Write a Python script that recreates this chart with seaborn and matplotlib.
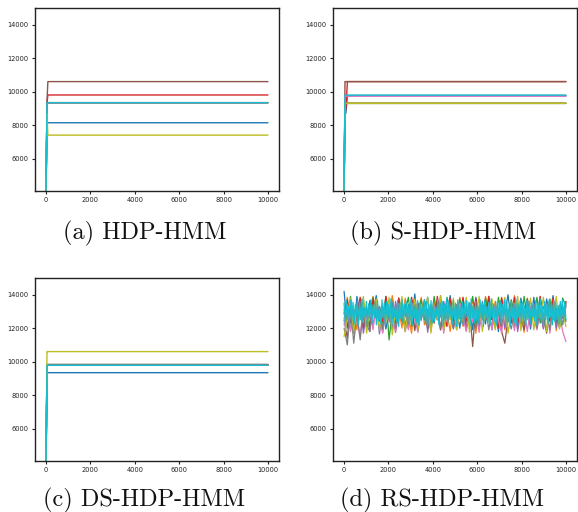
import numpy as np
import pandas as pd
import matplotlib
matplotlib.use("Agg")
import matplotlib.pyplot as plt
import seaborn as sns

# ---------------- data ----------------
chains = ["c0", "c1", "c2", "c3", "c4", "c5", "c6", "c7", "c8", "c9"]

# (a) HDP-HMM
a_iter = [0, 40, 80, 10000]
a_vals = [
    [4100, 8140, 8140, 8140],     # blue
    [4100, 9340, 9340, 9340],     # orange
    [4100, 9340, 9340, 9340],     # green
    [4100, 9300, 9800, 9800],     # red
    [4100, 9340, 9340, 9340],     # purple
    [4100, 9400, 10600, 10600],   # brown
    [4100, 9340, 9340, 9340],     # pink
    [4100, 9340, 9340, 9340],     # gray
    [4100, 8700, 7400, 7400],     # olive
    [4100, 9340, 9340, 9340],     # cyan
]

# (b) S-HDP-HMM
b_iter = [0, 40, 80, 150, 10000]
b_vals = [
    [4100, 8700, 8700, 9770, 9770],
    [4100, 9300, 9300, 9300, 9300],
    [4100, 9300, 9300, 9300, 9300],
    [4100, 9700, 8900, 10600, 10600],
    [4100, 9750, 9750, 9750, 9750],
    [4100, 10600, 10600, 10600, 10600],
    [4100, 9730, 9730, 9730, 9730],
    [4100, 9300, 9300, 9300, 9300],
    [4100, 9300, 9300, 9300, 9300],
    [4100, 9790, 9790, 9790, 9790],
]

# (c) DS-HDP-HMM
c_iter = [0, 40, 80, 10000]
c_vals = [
    [4100, 9340, 9340, 9340],
    [4100, 9800, 9800, 9800],
    [4100, 9800, 9800, 9800],
    [4100, 9800, 9800, 9800],
    [4100, 9800, 9800, 9800],
    [4100, 9800, 9800, 9800],
    [4100, 9800, 9800, 9800],
    [4100, 9840, 9840, 9840],
    [4100, 10600, 10600, 10600],
    [4100, 9780, 9780, 9780],
]

# (d) RS-HDP-HMM
d_blue = [14200, 12000, 13300, 11800, 13900, 12700, 13100, 12100, 13650, 12900,
          13950, 12400, 13200, 11950, 13000, 13800, 12300, 12800, 13700, 11900,
          13400, 12600, 14050, 12200, 13000, 12800, 13850, 12050, 13300, 12500,
          13600, 11850, 12900, 13950, 12400, 13100, 12000, 13750, 12700, 13300,
          11900, 13850, 12600, 13000, 12250, 13900, 12500, 13200, 11800, 13700,
          12900, 14000, 12300, 13100, 12000, 13800, 12700, 13400, 11950, 13850,
          12500, 13000, 12100, 13750, 12800, 13950, 12200, 13300, 12600, 13500]
d_orange = [12800, 13850, 12400, 13100, 11900, 13750, 12900, 13300, 12100, 13900,
            12600, 13000, 11750, 13500, 12800, 13950, 12300, 13200, 12000, 13800,
            12700, 11700, 13600, 12900, 13850, 12200, 13100, 11900, 13700, 12500,
            13950, 12800, 13000, 11800, 13400, 12600, 13850, 12100, 13200, 12900,
            13750, 11700, 13300, 12500, 13900, 12800, 12100, 13600, 12700, 13850,
            11900, 13100, 12600, 13950, 12300, 13000, 11750, 13800, 12500, 13300,
            12900, 13900, 12000, 13200, 12700, 13750, 11850, 13400, 12600, 13600]
d_green = [13100, 12500, 13900, 12200, 13300, 12800, 13750, 12000, 13000, 13850,
           12600, 13200, 12300, 13900, 11300, 13100, 12700, 13800, 12400, 13000,
           13850, 12100, 13300, 12900, 13700, 12500, 13100, 12000, 13900, 12700,
           13200, 12400, 13850, 12800, 13000, 12100, 13750, 12600, 13300, 12900,
           13900, 12200, 13100, 12700, 13800, 12500, 13000, 12000, 13850, 12800,
           13200, 12400, 13700, 12900, 13100, 12200, 13900, 12600, 13000, 12700,
           13850, 12300, 13300, 12800, 13750, 12500, 13100, 12100, 13800, 13300]
d_red = [12900, 13700, 12300, 13100, 12800, 13850, 12500, 13000, 12100, 13750,
         12700, 13300, 12400, 13900, 12900, 13100, 12200, 13800, 12600, 13000,
         12000, 13850, 12800, 13200, 12500, 13700, 12900, 13100, 12300, 13900,
         12700, 13000, 12100, 13800, 12600, 13300, 12800, 13850, 12400, 13100,
         12900, 13750, 12200, 13000, 12700, 13900, 12500, 13200, 12000, 13800,
         12800, 13100, 12600, 13850, 12300, 13000, 12900, 13750, 12500, 13300,
         12100, 13900, 12700, 13100, 12400, 13800, 12800, 13000, 12600, 13600]
d_purple = [12600, 13200, 11900, 13000, 12700, 13600, 11700, 12900, 13300, 12100,
            13500, 11650, 13100, 12800, 13000, 11900, 13600, 12500, 13200, 11800,
            12900, 13400, 12000, 13100, 12600, 13550, 11750, 13000, 12800, 13300,
            11900, 13600, 12700, 13100, 12000, 13400, 12600, 13000, 11850, 13500,
            12900, 13200, 12100, 13600, 12500, 13000, 11900, 13300, 12800, 13500,
            12000, 13100, 12700, 13400, 11800, 13000, 12600, 13600, 12100, 13200,
            12900, 13000, 11950, 13500, 12700, 13300, 12000, 13100, 12800, 13400]
d_brown = [12500, 11400, 13200, 11700, 12900, 13500, 12000, 13100, 11800, 13400,
           12700, 13000, 11900, 13300, 12600, 13500, 11750, 13000, 12800, 13400,
           12100, 13200, 11850, 13500, 12700, 13000, 12000, 13300, 12500, 13600,
           11900, 13100, 12800, 13400, 12000, 13000, 12600, 13500, 11950, 13200,
           10900, 13300, 12000, 13100, 12500, 12700, 13400, 12800, 13000, 11800,
           11100, 12600, 13200, 12000, 13300, 12700, 11900, 13100, 12500, 13400,
           12100, 13000, 12800, 11700, 13500, 12600, 13200, 12000, 13300, 12400]
d_pink = [12200, 13300, 11800, 13000, 12600, 11500, 13400, 12500, 13100, 11900,
          13500, 12700, 11700, 13200, 12400, 13000, 11800, 13400, 12600, 13100,
          11900, 13500, 12500, 11750, 13200, 12700, 13000, 11850, 13300, 12600,
          13100, 11700, 13400, 12500, 13000, 11900, 13500, 12700, 11800, 13200,
          12400, 13100, 11750, 13400, 12600, 13000, 11900, 13300, 12500, 11700,
          13200, 12700, 13100, 11850, 13500, 12400, 13000, 11800, 13300, 12600,
          11900, 13100, 12500, 13400, 11700, 13200, 12700, 13000, 11800, 11200]
d_gray = [12000, 11000, 13300, 11100, 12900, 11300, 13200, 12200, 11800, 13400,
          12600, 13000, 11950, 13300, 12500, 13100, 12000, 13400, 12700, 12100,
          13200, 12600, 13000, 11900, 13300, 12800, 12100, 13400, 12500, 13100,
          12000, 13200, 12700, 13000, 11950, 13400, 12600, 12200, 13100, 12800,
          13300, 12000, 13000, 12500, 13400, 11900, 13200, 12700, 13100, 12100,
          13300, 12600, 11950, 13000, 12800, 13400, 12200, 13100, 12500, 13300,
          12000, 13200, 12700, 13000, 11900, 13400, 12600, 13100, 12200, 13300]
d_olive = [11500, 12600, 13800, 11800, 13200, 12500, 13900, 11700, 13000, 12800,
           13750, 11900, 13300, 12400, 13850, 11600, 13100, 12700, 13900, 11800,
           13000, 12500, 13750, 11900, 13400, 12800, 13850, 11700, 13100, 12600,
           13900, 11850, 13200, 12500, 13800, 11900, 13000, 12700, 13850, 11750,
           13300, 12600, 13900, 11800, 13100, 12400, 13750, 11900, 13200, 12800,
           13850, 11700, 13000, 12600, 13900, 11850, 13300, 12500, 13800, 11900,
           13100, 12700, 13850, 11800, 13200, 12600, 13900, 11950, 13000, 12100]
d_cyan = [
    13500, 12300, 13650, 12600, 13300, 12150, 13700, 12450, 13550, 12250,
    13400, 12700, 13650, 12200, 13500, 12500, 13750, 12350, 13250, 12600,
    13600, 12100, 13450, 12550, 13700, 12300, 13350, 12650, 13550, 12200,
    13650, 12450, 13300, 12250, 13700, 12600, 13500, 12150, 13600, 12500,
    13400, 12350, 13750, 12200, 13550, 12650, 13300, 12400, 13650, 12100,
    13500, 12550, 13700, 12300, 13450, 12700, 13600, 12250, 13350, 12500,
    13750, 12150, 13550, 12600, 13400, 12350, 13650, 12200, 13500, 12450,
    13300, 12650, 13700, 12250, 13600, 12100, 13450, 12550, 13650, 12300,
    13550, 12400, 13250, 12700, 13700, 12200, 13500, 12600, 13600, 12150,
    13400, 12450, 13750, 12300, 13550, 12650, 13350, 12250, 13650, 12500,
    13500, 12100, 13700, 12550, 13300, 12350, 13600, 12200, 13450, 12700,
    13650, 12400, 13550, 12150, 13750, 12600, 13400, 12300, 13600, 12450,
    13350, 12250, 13700, 12650, 13500, 12100, 13650, 12500, 13300, 12350,
    13550, 12200, 13750, 12600, 13450, 12400, 13600, 12150, 13500, 12700,
    13650, 12300, 13400, 12550, 13700, 12250, 13550, 12450, 13300, 12100,
    13600, 12650, 13500, 12350, 13750, 12200, 13450, 12600, 13650, 12300,
    13550, 12400, 13350, 12150, 13700, 12550, 13600, 12250, 13500, 12700,
    13400, 12450, 13650, 12200, 13550, 12600, 13750, 12350, 13300, 12100,
    13600, 12500, 13450, 12300, 13700, 12650, 13550, 12200, 13650, 12400,
    13500, 12550, 13350, 12250, 13600, 12150, 13700, 12450, 13550, 12500]
d_vals = [d_blue, d_orange, d_green, d_red, d_purple, d_brown, d_pink, d_gray, d_olive, d_cyan]
D_LAST_ITER = 10000

captions = ["(a) HDP-HMM", "(b) S-HDP-HMM", "(c) DS-HDP-HMM", "(d) RS-HDP-HMM"]
y_ticks = [6000, 8000, 10000, 12000, 14000]
x_ticks = [0, 2000, 4000, 6000, 8000, 10000]


def long_frame(iters_per_chain, vals):
    rows = []
    for name, its, vs in zip(chains, iters_per_chain, vals):
        for i, v in zip(its, vs):
            rows.append((name, i, v))
    return pd.DataFrame(rows, columns=["chain", "iter", "value"])


frames = [
    long_frame([a_iter] * 10, a_vals),
    long_frame([b_iter] * 10, b_vals),
    long_frame([c_iter] * 10, c_vals),
    long_frame([np.linspace(0, D_LAST_ITER, len(v)) for v in d_vals], d_vals),
]

# ---------------- plot ----------------
sns.set_theme(style="ticks")
plt.rcParams["font.family"] = ["DejaVu Sans"]

W, H = 578, 512
fig = plt.figure(figsize=(W / 100, H / 100), dpi=100)

boxes = [(35, 8), (333, 8), (35, 278), (333, 278)]  # left, top in px
aw, ah = 244, 183
cap_pos = [(145, 233), (443, 233), (144, 500), (442, 500)]

palette = sns.color_palette("tab10", 10)

for k, (df, (lx, ty)) in enumerate(zip(frames, boxes)):
    ax = fig.add_axes([lx / W, 1 - (ty + ah) / H, aw / W, ah / H])
    sns.lineplot(data=df, x="iter", y="value", hue="chain", hue_order=chains,
                 palette=palette, estimator=None, sort=False, legend=False,
                 lw=1.0 if k < 3 else 0.9, ax=ax)
    ax.set_ylim(4060, 15000)
    ax.set_xlim(-500, 10500)
    ax.set_xticks(x_ticks)
    ax.set_yticks(y_ticks)
    ax.set_xticklabels([str(t) for t in x_ticks])
    ax.set_yticklabels([str(t) for t in y_ticks])
    ax.set_xlabel("")
    ax.set_ylabel("")
    ax.tick_params(labelsize=4.8, length=2.5, width=0.8, pad=2,
                   colors="#222222")
    for s in ax.spines.values():
        s.set_color("#222222")
        s.set_linewidth(1.0)
    cx, cy = cap_pos[k]
    fig.text(cx / W, 1 - cy / H, captions[k], family="cmr10", fontsize=17.5,
             ha="center", va="center", color="#111111")

fig.savefig("out.png", dpi=100)
